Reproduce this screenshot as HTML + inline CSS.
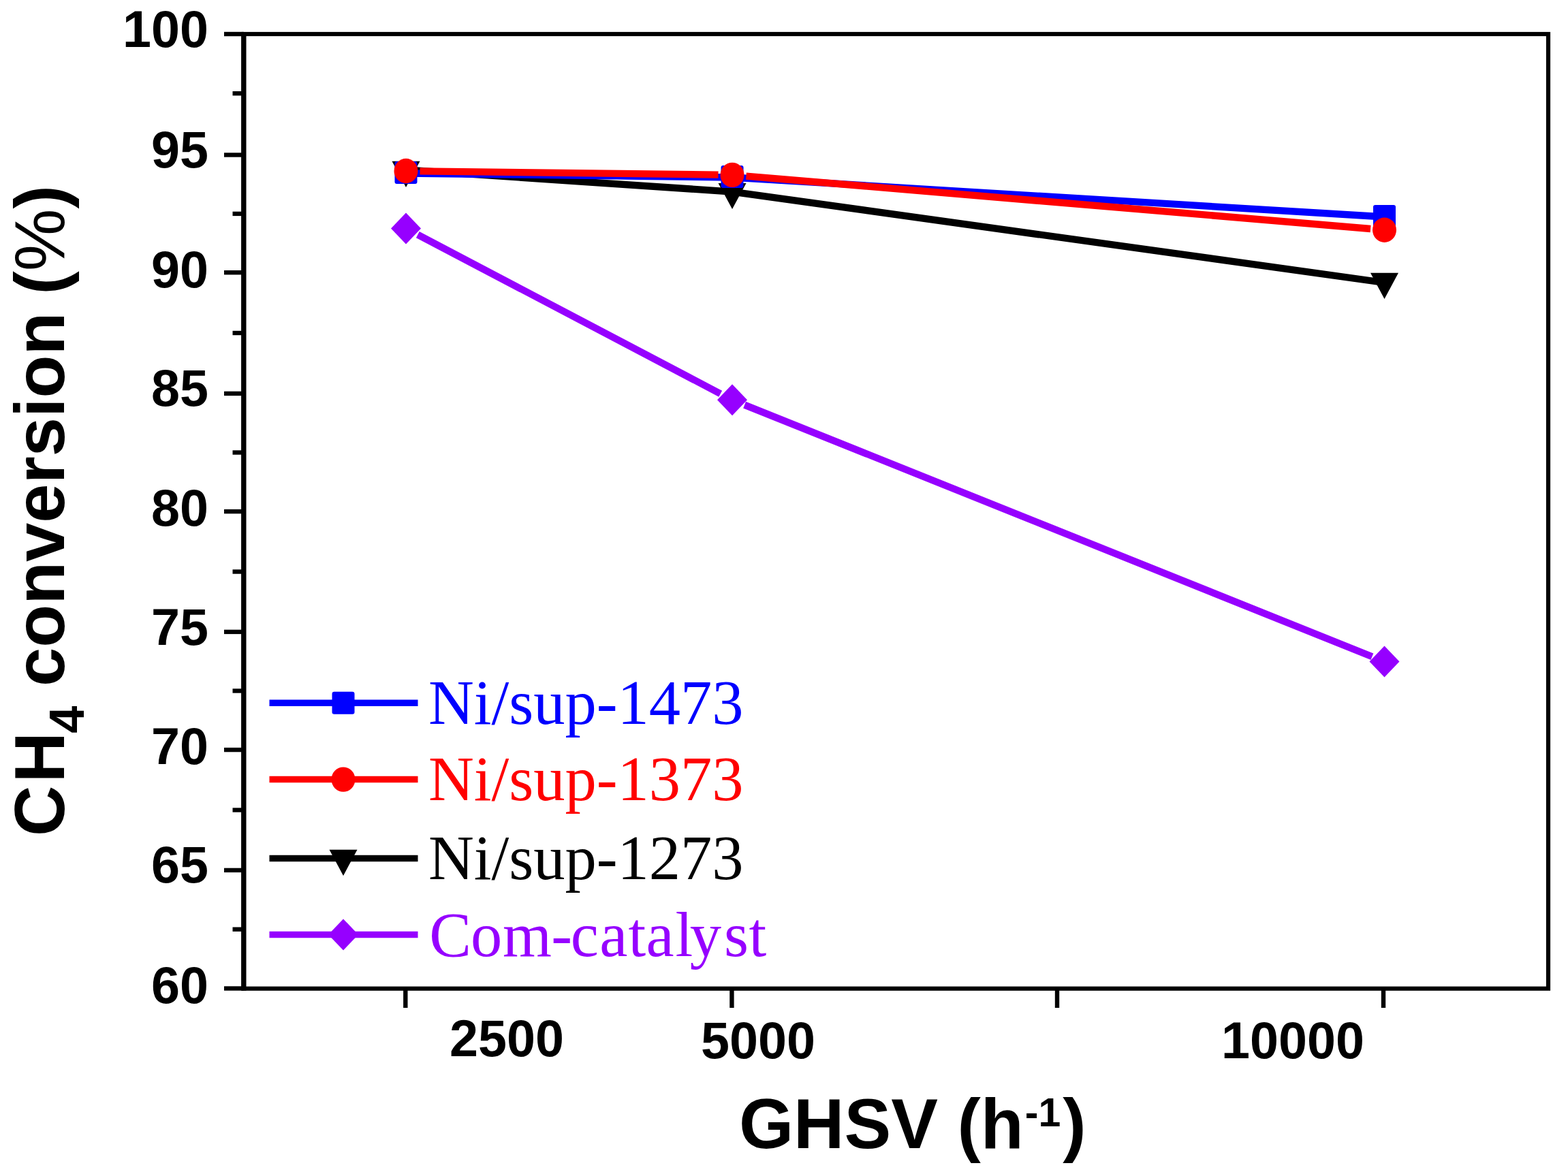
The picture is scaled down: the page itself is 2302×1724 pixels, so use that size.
<!DOCTYPE html>
<html><head><meta charset="utf-8"><title>CH4 conversion vs GHSV</title>
<style>html,body{margin:0;padding:0;background:#fff;}body{width:2302px;height:1724px;overflow:hidden;}svg{display:block;}</style>
</head><body>
<svg width="2302" height="1724" viewBox="0 0 2302 1724">
<rect width="2302" height="1724" fill="#fff"/>
<line x1="613.3" y1="344.6" x2="1057.7" y2="578.2" stroke="#9600ff" stroke-width="10.3"/>
<line x1="1093.1" y1="594.6" x2="2014.4" y2="964.2" stroke="#9600ff" stroke-width="10.3"/>
<polygon points="596.0,312.5 618.0,335.5 596.0,358.5 574.0,335.5" fill="#9600ff"/>
<polygon points="1075.0,564.3 1097.0,587.3 1075.0,610.3 1053.0,587.3" fill="#9600ff"/>
<polygon points="2032.5,948.5 2054.5,971.5 2032.5,994.5 2010.5,971.5" fill="#9600ff"/>
<line x1="596.0" y1="249.4" x2="1075.0" y2="281.6" stroke="#000" stroke-width="10.3"/>
<line x1="1075.0" y1="281.6" x2="2032.5" y2="415.0" stroke="#000" stroke-width="10.3"/>
<polygon points="575.5,236.7 616.5,236.7 596.0,274.9" fill="#000"/>
<polygon points="1054.5,268.9 1095.5,268.9 1075.0,307.1" fill="#000"/>
<polygon points="2012.0,400.8 2053.0,400.8 2032.5,439.0" fill="#000"/>
<line x1="596.0" y1="254.5" x2="1075.0" y2="260.5" stroke="#0000ff" stroke-width="10.3"/>
<line x1="1075.0" y1="260.5" x2="2032.5" y2="318.5" stroke="#0000ff" stroke-width="10.3"/>
<rect x="579.5" y="237.0" width="33" height="33" rx="3" fill="#0000ff"/>
<rect x="1058.5" y="243.0" width="33" height="33" rx="3" fill="#0000ff"/>
<rect x="2016.0" y="301.0" width="33" height="33" rx="3" fill="#0000ff"/>
<line x1="616.5" y1="251.3" x2="1054.5" y2="256.6" stroke="#ff0000" stroke-width="10.3"/>
<line x1="1095.4" y1="258.6" x2="2012.1" y2="336.0" stroke="#ff0000" stroke-width="10.3"/>
<ellipse cx="596.0" cy="251.0" rx="17.5" ry="18.2" fill="#ff0000"/>
<ellipse cx="1075.0" cy="256.9" rx="17.5" ry="18.2" fill="#ff0000"/>
<ellipse cx="2032.5" cy="337.7" rx="17.5" ry="18.2" fill="#ff0000"/>
<rect x="357.8" y="50" width="1915.2" height="1401.7" fill="none" stroke="#000" stroke-width="6.2"/>
<line x1="357.8" y1="46.9" x2="357.8" y2="1454.8" stroke="#000" stroke-width="7.4"/>
<line x1="357.8" y1="50" x2="329" y2="50" stroke="#000" stroke-width="6.4"/>
<line x1="357.8" y1="227.5" x2="329" y2="227.5" stroke="#000" stroke-width="6.4"/>
<line x1="357.8" y1="400.2" x2="329" y2="400.2" stroke="#000" stroke-width="6.4"/>
<line x1="357.8" y1="577.9" x2="329" y2="577.9" stroke="#000" stroke-width="6.4"/>
<line x1="357.8" y1="751.1" x2="329" y2="751.1" stroke="#000" stroke-width="6.4"/>
<line x1="357.8" y1="927.9" x2="329" y2="927.9" stroke="#000" stroke-width="6.4"/>
<line x1="357.8" y1="1101.1" x2="329" y2="1101.1" stroke="#000" stroke-width="6.4"/>
<line x1="357.8" y1="1277.9" x2="329" y2="1277.9" stroke="#000" stroke-width="6.4"/>
<line x1="357.8" y1="1451.5" x2="329" y2="1451.5" stroke="#000" stroke-width="6.4"/>
<line x1="357.8" y1="137.2" x2="341.5" y2="137.2" stroke="#000" stroke-width="6.4"/>
<line x1="357.8" y1="313.9" x2="341.5" y2="313.9" stroke="#000" stroke-width="6.4"/>
<line x1="357.8" y1="489.0" x2="341.5" y2="489.0" stroke="#000" stroke-width="6.4"/>
<line x1="357.8" y1="664.5" x2="341.5" y2="664.5" stroke="#000" stroke-width="6.4"/>
<line x1="357.8" y1="839.5" x2="341.5" y2="839.5" stroke="#000" stroke-width="6.4"/>
<line x1="357.8" y1="1014.5" x2="341.5" y2="1014.5" stroke="#000" stroke-width="6.4"/>
<line x1="357.8" y1="1189.5" x2="341.5" y2="1189.5" stroke="#000" stroke-width="6.4"/>
<line x1="357.8" y1="1364.7" x2="341.5" y2="1364.7" stroke="#000" stroke-width="6.4"/>
<line x1="595.3" y1="1451.7" x2="595.3" y2="1480" stroke="#000" stroke-width="6.4"/>
<line x1="1074.4" y1="1451.7" x2="1074.4" y2="1480" stroke="#000" stroke-width="6.4"/>
<line x1="1552" y1="1451.7" x2="1552" y2="1480" stroke="#000" stroke-width="6.4"/>
<line x1="2031" y1="1451.7" x2="2031" y2="1480" stroke="#000" stroke-width="6.4"/>
<g font-family="Liberation Sans, Arial, sans-serif" font-weight="bold" font-size="75.5" fill="#000">
<text x="306" y="69.2" text-anchor="end">100</text>
<text x="306" y="245.8" text-anchor="end">95</text>
<text x="306" y="422.3" text-anchor="end">90</text>
<text x="306" y="596.4" text-anchor="end">85</text>
<text x="306" y="772.2" text-anchor="end">80</text>
<text x="306" y="946.9" text-anchor="end">75</text>
<text x="306" y="1122.3" text-anchor="end">70</text>
<text x="306" y="1296.4" text-anchor="end">65</text>
<text x="306" y="1472.6" text-anchor="end">60</text>
<text x="660" y="1551">2500</text>
<text x="1029" y="1553.5">5000</text>
<text x="1793" y="1554">10000</text>
</g>
<g font-family="Liberation Sans, Arial, sans-serif" font-weight="bold" fill="#000">
<text x="1085" y="1686" font-size="103">GHSV (h<tspan font-size="59" dx="2" dy="-32.4">-1</tspan><tspan dx="3" dy="32.4">)</tspan></text>
<text transform="translate(94,1228) rotate(-90)" font-size="103">C<tspan dx="4">H</tspan><tspan font-size="72" dx="-1.5" dy="28.7">4</tspan><tspan dy="-28.7"> conversion</tspan><tspan dx="-2.5"> (</tspan><tspan font-weight="normal">%</tspan>)</text>
</g>
<line x1="395.5" y1="1032.3" x2="613.5" y2="1032.3" stroke="#0000ff" stroke-width="9.5"/>
<rect x="487.5" y="1015.8" width="33" height="33" rx="3" fill="#0000ff"/>
<text x="629" y="1062.6" font-family="Liberation Serif, Times New Roman, serif" font-size="92.5" fill="#0000ff">Ni/sup-1473</text>
<line x1="395.5" y1="1144.6" x2="613.5" y2="1144.6" stroke="#ff0000" stroke-width="9.5"/>
<ellipse cx="504.0" cy="1144.6" rx="17.5" ry="18.2" fill="#ff0000"/>
<text x="629" y="1175.2" font-family="Liberation Serif, Times New Roman, serif" font-size="92.5" fill="#ff0000">Ni/sup-1373</text>
<line x1="395.5" y1="1260.4" x2="613.5" y2="1260.4" stroke="#000" stroke-width="9.5"/>
<polygon points="483.5,1247.7 524.5,1247.7 504.0,1285.9" fill="#000"/>
<text x="629" y="1290.5" font-family="Liberation Serif, Times New Roman, serif" font-size="92.5" fill="#000">Ni/sup-1273</text>
<line x1="395.5" y1="1372.4" x2="613.5" y2="1372.4" stroke="#9600ff" stroke-width="9.5"/>
<polygon points="504.0,1349.4 526.0,1372.4 504.0,1395.4 482.0,1372.4" fill="#9600ff"/>
<text x="629" y="1403.8" font-family="Liberation Serif, Times New Roman, serif" font-size="92.5" fill="#9600ff" dx="1.35 -1.05 0.75 -0.75 -2.3 1.5 1.05 0.35 2.1 -4.45 3.95 0.4">Com-catalyst</text>
</svg>
</body></html>
